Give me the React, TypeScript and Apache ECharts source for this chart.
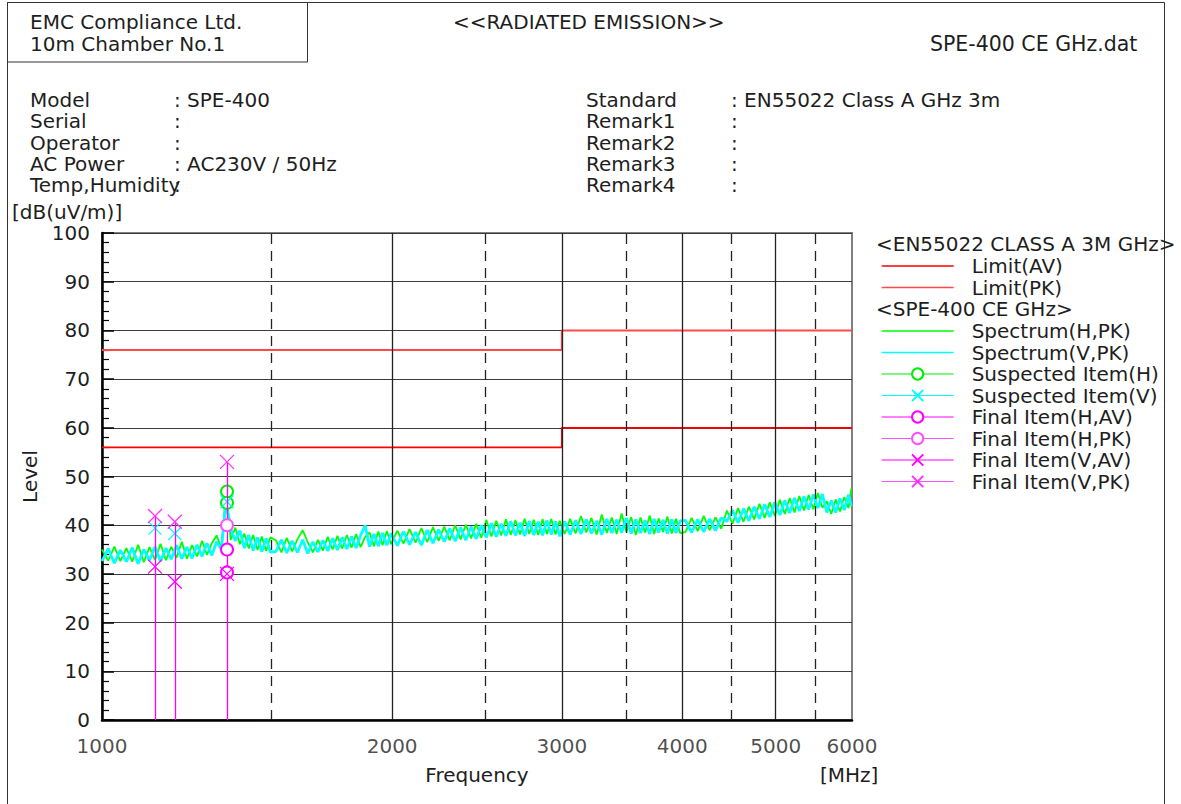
import React, { useEffect, useRef } from 'react';
import * as echarts from 'echarts';

// ---------- data ----------
const FREQ = [
  1000, 1015, 1030, 1045, 1060, 1075, 1090, 1105, 1120, 1135, 1150, 1165, 1180, 1195, 1210, 1225, 1240,
  1255, 1270, 1285, 1300, 1315, 1330, 1345, 1360, 1375, 1390, 1405, 1420, 1435, 1450, 1465, 1480, 1495,
  1515, 1535, 1555, 1575, 1595, 1615, 1635, 1655, 1675, 1695, 1715, 1735, 1755, 1775, 1795, 1815, 1835,
  1855, 1875, 1895, 1915, 1935, 1955, 1975, 1995,
  2025, 2055, 2085, 2115, 2145, 2175, 2205, 2235, 2265, 2295, 2325, 2355, 2385, 2415, 2445, 2475, 2505,
  2535, 2565, 2595, 2625, 2655, 2685, 2715, 2745, 2775, 2805, 2835, 2865, 2895, 2925, 2955, 2985,
  3020, 3060, 3100, 3140, 3180, 3220, 3260, 3300, 3340, 3380, 3420, 3460, 3500, 3540, 3580, 3620, 3660,
  3700, 3740, 3780, 3820, 3860, 3900, 3940, 3980,
  4030, 4090, 4150, 4210, 4270, 4330, 4390, 4450, 4510, 4570, 4630, 4690, 4750, 4810, 4870, 4930, 4990,
  5050, 5110, 5170, 5230, 5290, 5350, 5410, 5470, 5530, 5590, 5650, 5710, 5770, 5830, 5890, 5950, 5990,
];

const SPEC_H = [
  35.0, 32.7, 35.6, 32.6, 35.3, 32.5, 36.0, 32.4, 35.5, 32.9, 36.2, 32.8, 35.6, 33.3, 36.6, 33.1, 35.9,
  33.6, 36.8, 33.9, 36.3, 37.9, 35.2, 47.0, 37.0, 39.5, 36.1, 38.3, 35.2, 38.0, 34.9, 37.7, 34.7, 37.5,
  36.9, 34.4, 37.4, 34.6, 37.1, 39.0, 36.5, 34.4, 37.0, 34.8, 37.6, 35.0, 37.8, 35.2, 38.0, 35.4, 38.2,
  35.5, 37.6, 38.5, 35.7, 38.7, 35.9, 38.8, 36.1,
  38.9, 36.2, 39.2, 36.4, 39.4, 36.5, 39.6, 36.8, 39.7, 36.9, 40.0, 37.1, 40.1, 37.3, 40.3, 37.4, 41.1,
  37.7, 40.9, 37.9, 41.2, 38.0, 41.0, 38.1, 41.3, 38.2, 41.1, 38.0, 41.2, 38.2, 41.3, 38.1, 40.9,
  38.2, 41.3, 38.3, 41.9, 38.5, 41.5, 38.1, 42.2, 38.4, 41.6, 38.2, 42.4, 38.6, 41.7, 38.0, 41.6, 38.5,
  42.0, 38.2, 41.4, 38.6, 41.8, 38.3, 41.3, 38.4,
  38.6, 41.5, 38.8, 41.9, 39.0, 41.6, 39.3, 43.0, 40.3, 43.5, 40.7, 43.8, 41.2, 44.4, 41.5, 44.7, 41.9,
  45.2, 42.3, 45.6, 42.6, 46.0, 43.0, 46.2, 43.3, 46.6, 43.6, 44.9, 42.3, 45.3, 42.8, 45.8, 43.5, 47.5,
];

const SPEC_V = [
  32.6, 35.2, 32.2, 34.9, 32.5, 35.4, 32.1, 35.0, 32.8, 35.6, 32.6, 35.3, 33.0, 35.9, 33.1, 35.5, 33.2,
  36.0, 33.6, 36.3, 33.8, 36.6, 35.0, 45.0, 39.2, 36.8, 38.9, 35.3, 38.0, 34.8, 37.5, 34.6, 37.3, 34.5,
  34.6, 37.0, 34.3, 36.8, 34.4, 37.0, 34.2, 36.6, 34.5, 36.9, 34.7, 37.3, 34.9, 37.5, 35.1, 37.7, 35.3,
  37.9, 40.0, 35.6, 38.2, 35.7, 38.4, 35.9, 38.3,
  35.8, 38.7, 36.0, 38.6, 35.9, 39.0, 36.3, 39.1, 36.6, 39.3, 36.7, 39.5, 36.9, 39.7, 37.2, 40.0, 37.5,
  40.4, 37.6, 40.3, 37.8, 40.8, 37.9, 40.5, 37.8, 40.9, 38.0, 40.7, 37.9, 41.0, 38.1, 40.8, 37.7,
  40.8, 38.1, 41.0, 38.2, 41.2, 38.3, 40.9, 38.1, 41.3, 38.4, 41.1, 38.5, 41.5, 38.3, 41.2, 38.4, 41.0,
  38.2, 41.3, 38.5, 41.1, 38.3, 41.2, 38.4, 40.9,
  41.0, 38.5, 41.2, 38.6, 41.3, 38.9, 41.5, 40.8, 43.1, 40.5, 43.4, 40.9, 43.8, 41.3, 44.3, 41.7, 44.7,
  42.1, 45.1, 42.5, 45.6, 42.9, 45.9, 43.2, 46.3, 43.5, 46.4, 42.6, 45.1, 42.6, 45.5, 43.1, 46.3, 43.9,
];

const LIMIT_AV = [[1000, 56], [3000, 56], [3000, 60], [6000, 60]];
const LIMIT_PK = [[1000, 76], [3000, 76], [3000, 80], [6000, 80]];

const SUSPECT_H = [[1348, 46.9], [1348, 44.6]];
const SUSPECT_V = [[1135, 39.4], [1190, 38.3], [1348, 44.8]];
const FINAL_H_AV = [[1348, 35.0], [1348, 30.3]];
const FINAL_H_PK = [[1348, 40.0]];
const FINAL_V_AV = [[1135, 31.5], [1190, 28.4], [1348, 30.0]];
const FINAL_V_PK = [[1135, 41.9], [1190, 40.7], [1348, 53.0]];

const X_LABELS = [1000, 2000, 3000, 4000, 5000, 6000];
const X_GRID_SOLID = [2000, 3000, 4000, 5000];
const X_GRID_DASHED = [1500, 2500, 3500, 4500, 5500];

const INFO_LEFT = [
  ['Model', 'SPE-400'],
  ['Serial', ''],
  ['Operator', ''],
  ['AC Power', 'AC230V / 50Hz'],
  ['Temp,Humidity', ''],
];
const INFO_RIGHT = [
  ['Standard', 'EN55022 Class A GHz 3m'],
  ['Remark1', ''],
  ['Remark2', ''],
  ['Remark3', ''],
  ['Remark4', ''],
];

const FONT = '"DejaVu Sans", sans-serif';
const TXT = '#1e1e1e';
const X_SYMBOL = 'path://M0 0L10 10M10 0L0 10';

function txt(text: string, x: number, y: number, extra: any = {}) {
  return {
    type: 'text',
    x,
    y,
    silent: true,
    style: { text, fontSize: 20, lineHeight: 20, fontFamily: FONT, fill: TXT, verticalAlign: 'middle', ...extra },
  };
}

export default function App() {
  const ref = useRef<HTMLDivElement>(null);

  useEffect(() => {
    if (!ref.current) return;
    document.body.style.margin = '0';
    const chart = echarts.init(ref.current, null, { renderer: 'svg' });

    const graphics: any[] = [
      { type: 'rect', shape: { x: 7.5, y: 2.5, width: 1157, height: 820 }, style: { fill: 'none', stroke: '#333', lineWidth: 1 }, silent: true },
      { type: 'rect', shape: { x: 7.5, y: 2.5, width: 300, height: 59.5 }, style: { fill: 'none', stroke: '#333', lineWidth: 1 }, silent: true },
      txt('EMC Compliance Ltd.', 30, 22),
      txt('10m Chamber No.1', 30, 44),
      txt('<<RADIATED EMISSION>>', 453, 22),
      txt('SPE-400 CE GHz.dat', 930, 44, { fontSize: 20.5 }),
      txt('[dB(uV/m)]', 12, 212),
      txt('[MHz]', 820, 775),
      txt('<EN55022 CLASS A 3M GHz>', 876, 244),
      txt('<SPE-400 CE GHz>', 876, 309),
    ];
    const rowY = [100, 121, 143, 164, 185];
    INFO_LEFT.forEach(([k, v], i) => {
      graphics.push(txt(k, 30, rowY[i]));
      graphics.push(txt(':' + (v ? ' ' + v : ''), 174, rowY[i]));
    });
    INFO_RIGHT.forEach(([k, v], i) => {
      graphics.push(txt(k, 586, rowY[i]));
      graphics.push(txt(':' + (v ? ' ' + v : ''), 731, rowY[i]));
    });

    const markerSeries = (name: string, data: number[][], symbol: string, size: number, color: string, z: number) => ({
      name,
      type: 'line',
      data,
      symbol,
      symbolSize: size,
      showSymbol: true,
      z,
      lineStyle: { color, width: 1.2, opacity: 0 },
      itemStyle: { color, borderColor: color, borderWidth: 1.3 },
      emphasis: { disabled: true },
    });

    const legendText = { fontSize: 20, fontFamily: FONT, color: TXT, lineHeight: 20, padding: [0, 0, 0, 13] };
    const mk = (name: string, color: string) => ({ name, lineStyle: { color, opacity: 1, width: 1.2 } });
    const plain = (name: string) => ({ name, itemStyle: { opacity: 0 }, lineStyle: { width: 1.3 } });

    const option: any = {
      animation: false,
      backgroundColor: '#fff',
      tooltip: { show: false },
      graphic: graphics,
      grid: {
        left: 102,
        right: 329,
        top: 233,
        bottom: 84,
        show: true,
        borderColor: '#808080',
        borderWidth: 2,
        containLabel: false,
      },
      legend: [
        {
          orient: 'vertical',
          left: 876,
          top: 251,
          itemWidth: 72,
          itemHeight: 14,
          itemGap: 1.5,
          selectedMode: false,
          textStyle: legendText,
          data: [plain('Limit(AV)'), plain('Limit(PK)')],
        },
        {
          orient: 'vertical',
          left: 876,
          top: 316,
          itemWidth: 72,
          itemHeight: 14,
          itemGap: 1.5,
          selectedMode: false,
          textStyle: legendText,
          data: [
            plain('Spectrum(H,PK)'),
            plain('Spectrum(V,PK)'),
            mk('Suspected Item(H)', '#00ee00'),
            mk('Suspected Item(V)', '#00ffff'),
            mk('Final Item(H,AV)', '#ff00ff'),
            mk('Final Item(H,PK)', '#ff50ff'),
            mk('Final Item(V,AV)', '#ff00ff'),
            mk('Final Item(V,PK)', '#ff50ff'),
          ],
        },
      ],
      xAxis: {
        type: 'log',
        logBase: 10,
        min: 1000,
        max: 6000,
        name: 'Frequency',
        nameLocation: 'middle',
        nameGap: 45,
        nameTextStyle: { fontSize: 20, fontFamily: FONT, color: TXT },
        axisLine: { show: true, lineStyle: { color: '#000', width: 2.5 } },
        axisTick: { show: false },
        axisLabel: { show: false },
        splitLine: { show: false },
        minorSplitLine: { show: false },
      },
      yAxis: {
        type: 'value',
        min: 0,
        max: 100,
        interval: 10,
        name: 'Level',
        nameLocation: 'middle',
        nameGap: 62,
        nameTextStyle: { fontSize: 20, fontFamily: FONT, color: TXT },
        axisLine: { show: true, lineStyle: { color: '#000', width: 2.5 } },
        axisTick: { show: true, inside: true, length: 12, lineStyle: { color: '#000', width: 1.5 } },
        minorTick: { show: true, splitNumber: 5, length: 7, lineStyle: { color: '#000', width: 1.2 } },
        axisLabel: { fontSize: 20, fontFamily: FONT, color: TXT, margin: 12 },
        splitLine: { show: true, lineStyle: { color: '#3c3c3c', width: 1.2 } },
      },
      series: [
        {
          name: 'Limit(AV)',
          type: 'line',
          data: LIMIT_AV,
          symbol: 'none',
          z: 1,
          lineStyle: { color: '#ff0000', width: 1.8 },
          itemStyle: { color: '#ff0000' },
          emphasis: { disabled: true },
          markLine: {
            silent: true,
            symbol: 'none',
            label: { show: false },
            emphasis: { disabled: true },
            data: [
              ...X_GRID_SOLID.map((v) => ({ xAxis: v, lineStyle: { color: '#222', width: 1.3, type: 'solid' } })),
              ...X_GRID_DASHED.map((v) => ({ xAxis: v, lineStyle: { color: '#222', width: 1.3, type: [10, 7] } })),
            ],
          },
        },
        {
          name: 'Limit(PK)',
          type: 'line',
          data: LIMIT_PK,
          symbol: 'none',
          z: 1,
          lineStyle: { color: '#ff4848', width: 2 },
          itemStyle: { color: '#ff4848' },
          emphasis: { disabled: true },
        },
        {
          name: 'Spectrum(H,PK)',
          type: 'line',
          data: FREQ.map((f, i) => [f, SPEC_H[i]]),
          symbol: 'none',
          z: 2,
          lineStyle: { color: '#00ff00', width: 1.8 },
          itemStyle: { color: '#00ff00' },
          emphasis: { disabled: true },
        },
        {
          name: 'Spectrum(V,PK)',
          type: 'line',
          data: FREQ.map((f, i) => [f, SPEC_V[i]]),
          symbol: 'none',
          z: 2,
          lineStyle: { color: '#00ffff', width: 2.8 },
          itemStyle: { color: '#00ffff' },
          emphasis: { disabled: true },
        },
        markerSeries('Suspected Item(H)', SUSPECT_H, 'emptyCircle', 12, '#00ee00', 4),
        markerSeries('Suspected Item(V)', SUSPECT_V, X_SYMBOL, 13, '#00ffff', 4),
        markerSeries('Final Item(H,AV)', FINAL_H_AV, 'emptyCircle', 12, '#ff00ff', 5),
        markerSeries('Final Item(H,PK)', FINAL_H_PK, 'emptyCircle', 12, '#ff50ff', 5),
        markerSeries('Final Item(V,AV)', FINAL_V_AV, X_SYMBOL, 14, '#ff00ff', 5),
        {
          ...markerSeries('Final Item(V,PK)', FINAL_V_PK, X_SYMBOL, 14, '#ff30ff', 5),
          markLine: {
            silent: true,
            symbol: 'none',
            label: { show: false },
            emphasis: { disabled: true },
            lineStyle: { color: '#ff00ff', width: 1.3, type: 'solid', opacity: 1 },
            data: FINAL_V_PK.map(([f, v]) => [{ coord: [f, 0] }, { coord: [f, v] }]),
          },
        },
        {
          name: 'xlabels',
          type: 'scatter',
          data: X_LABELS.map((v) => [v, 0]),
          symbolSize: 1,
          silent: true,
          clip: false,
          z: 6,
          itemStyle: { color: 'rgba(0,0,0,0)' },
          label: {
            show: true,
            position: 'bottom',
            distance: 15,
            fontSize: 20,
            fontFamily: FONT,
            color: TXT,
            formatter: (p: any) => String(p.value[0]),
          },
          emphasis: { disabled: true },
        },
      ],
    };

    chart.setOption(option);
    return () => chart.dispose();
  }, []);

  return (
    <div style={{ position: 'fixed', left: 0, top: 0, width: 1181, height: 804, background: '#fff' }}>
      <div ref={ref} style={{ width: 1181, height: 804 }} />
    </div>
  );
}
